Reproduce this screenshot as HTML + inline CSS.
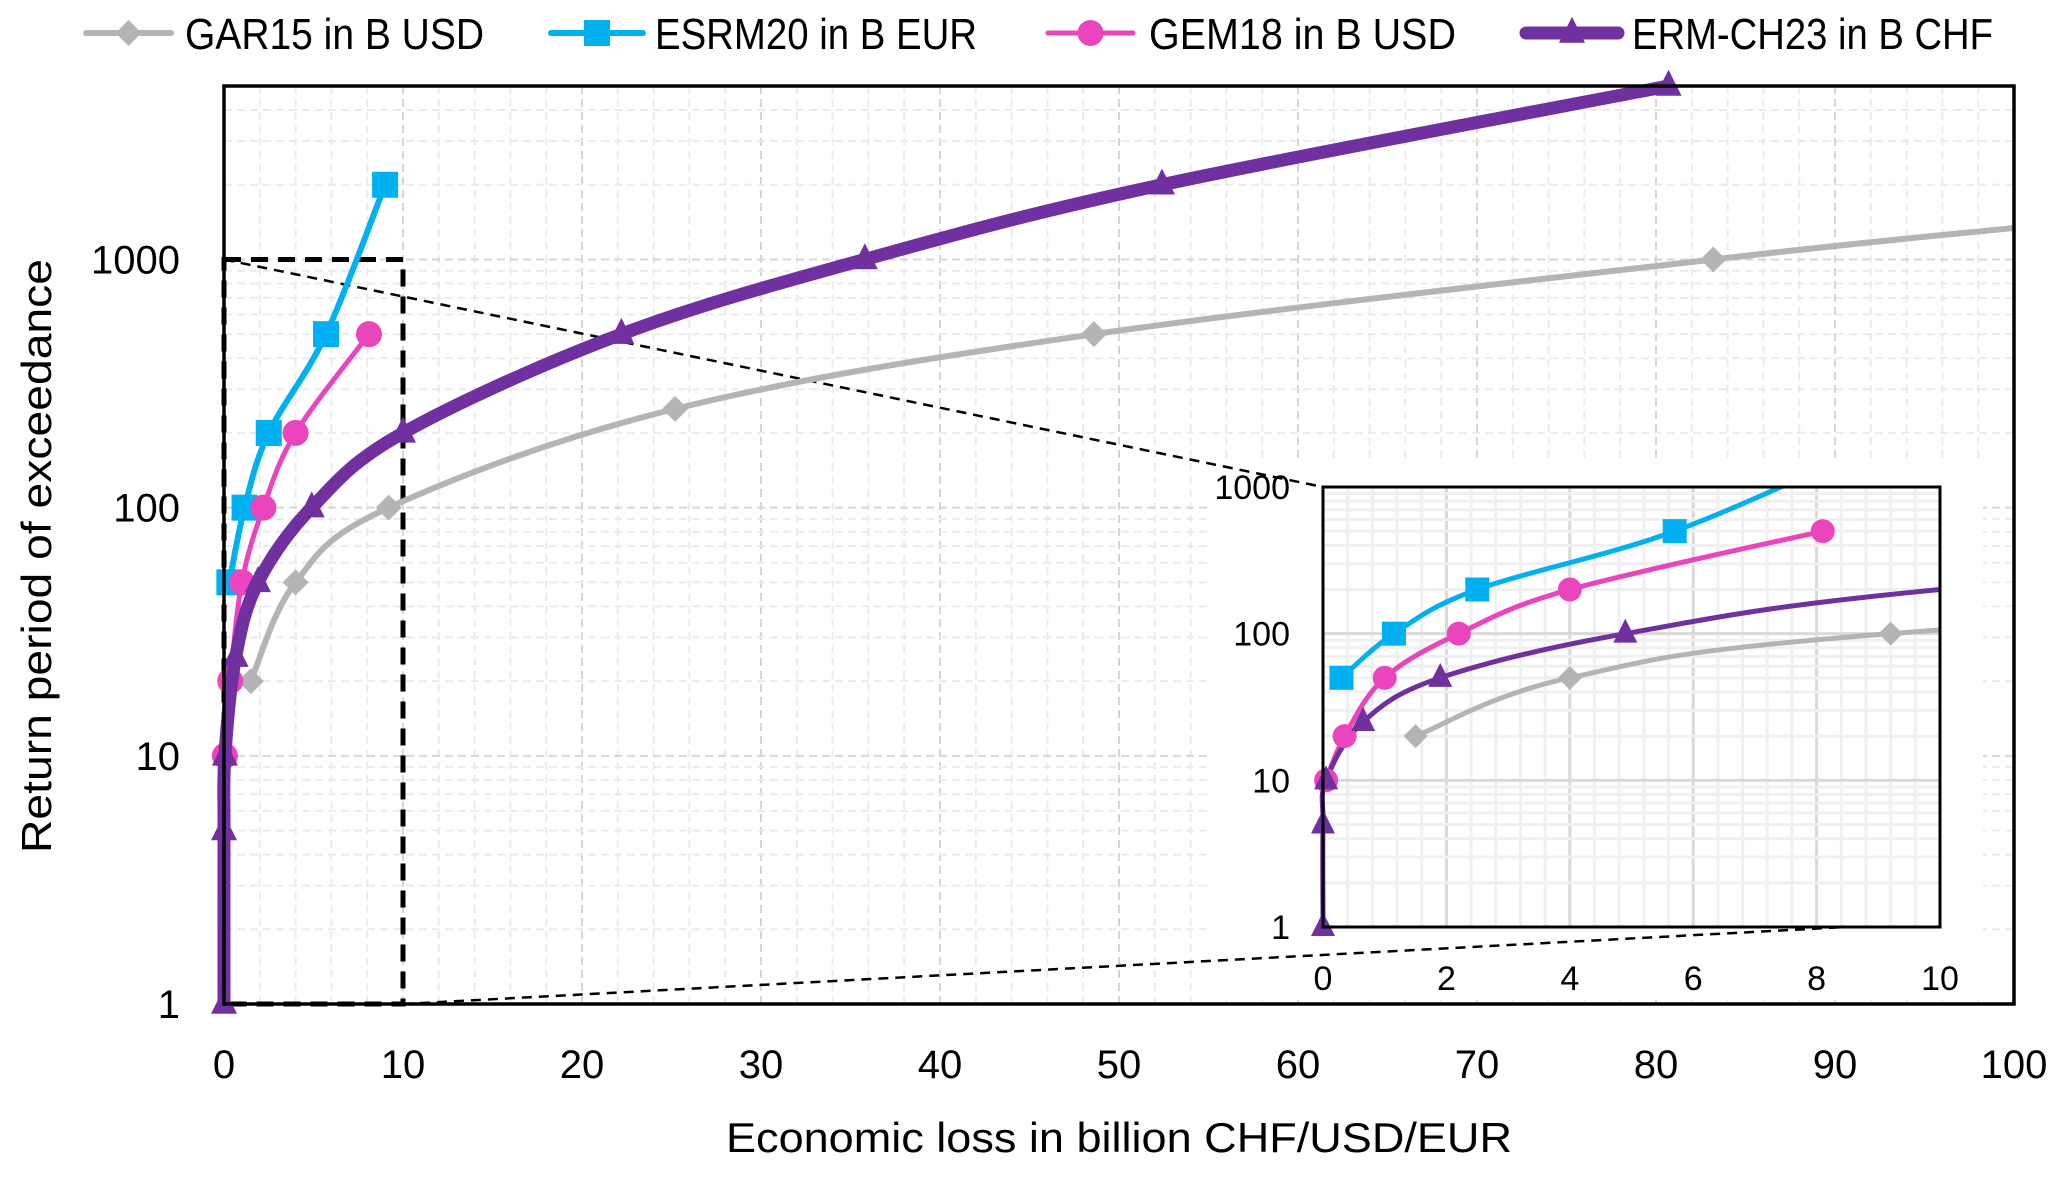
<!DOCTYPE html>
<html><head><meta charset="utf-8"><style>
html,body{margin:0;padding:0;background:#fff;}
svg{display:block;font-family:"Liberation Sans",sans-serif;}
</style></head><body>
<svg id="chart" width="2067" height="1178" viewBox="0 0 2067 1178" xmlns="http://www.w3.org/2000/svg"></svg>
<script>
const seriesNames=["GAR15 in B USD","ESRM20 in B EUR","GEM18 in B USD","ERM-CH23 in B CHF"];
const garX=[1.5,4,9.2,25.2,48.6,83.2];
const garY=[20,50,100,250,500,1000];
const garTailX=[100];
const garTailY=[1340];
const esrmX=[0.3,1.15,2.5,5.7,9];
const esrmY=[50,100,200,500,2000];
const gemX=[0.05,0.35,1.0,2.2,4,8.1];
const gemY=[10,20,50,100,200,500];
const ermX=[0,0,0.05,0.65,1.9,4.9,10,22.2,35.8,52.4,80.7];
const ermY=[1,5,10,25,50,100,200,500,1000,2000,5000];
const xTicks=[0,10,20,30,40,50,60,70,80,90,100];
const yTicks=[1,10,100,1000];
const insetXTicks=[0,2,4,6,8,10];
const insetYTicks=[1,10,100,1000];

const NS="http://www.w3.org/2000/svg";
const svg=document.getElementById('chart');
function el(tag,attrs,parent){const e=document.createElementNS(NS,tag);for(const k in attrs)e.setAttribute(k,attrs[k]);(parent||svg).appendChild(e);return e;}

const M={l:224,r:2014,t:86,b:1004,xmin:0,xmax:100,ymin:1,ymax:5000};
const I={l:1323,r:1940,t:487,b:927,xmin:0,xmax:10,ymin:1,ymax:1000};
function ax(A){return {x:v=>A.l+(v-A.xmin)/(A.xmax-A.xmin)*(A.r-A.l),
 y:v=>A.b-(Math.log10(v)-Math.log10(A.ymin))/(Math.log10(A.ymax)-Math.log10(A.ymin))*(A.b-A.t)};}
const mA=ax(M), iA=ax(I);

const gGrid=el('g',{});


for(let v=2;v<100;v+=2){const X=mA.x(v);el('line',{x1:X,x2:X,y1:M.t,y2:M.b,stroke:v%10==0?'#d6d6d6':'#ebebeb','stroke-width':2,'stroke-dasharray':'8 5'},gGrid);}
for(let d=1;d<=1000;d*=10){for(let k=1;k<=9;k++){const v=d*k;if(v<=1||v>=M.ymax)continue;const Y=mA.y(v);el('line',{x1:M.l,x2:M.r,y1:Y,y2:Y,stroke:k==1?'#d6d6d6':'#ebebeb','stroke-width':2,'stroke-dasharray':'8 5'},gGrid);}}

el('rect',{x:1207,y:460,width:776,height:540,fill:'#fff'});

function smoothPath(xs,ys,A){
 const p=xs.map((x,i)=>[A.x(x),A.y(ys[i])]);
 let d='M'+p[0][0]+','+p[0][1];
 for(let i=0;i<p.length-1;i++){
  const p0=p[i-1]||p[i],p1=p[i],p2=p[i+1],p3=p[i+2]||p2;
  const t=0.17;
  const c1=[p1[0]+(p2[0]-p0[0])*t,p1[1]+(p2[1]-p0[1])*t];
  const c2=[p2[0]-(p3[0]-p1[0])*t,p2[1]-(p3[1]-p1[1])*t];
  d+=' C'+c1[0]+','+c1[1]+' '+c2[0]+','+c2[1]+' '+p2[0]+','+p2[1];
 }
 return d;
}
function marker(type,cx,cy,s,color,parent){
 if(type=='diamond')return el('polygon',{points:`${cx},${cy-s} ${cx+s},${cy} ${cx},${cy+s} ${cx-s},${cy}`,fill:color},parent);
 if(type=='square')return el('rect',{x:cx-s,y:cy-s,width:2*s,height:2*s,fill:color},parent);
 if(type=='circle')return el('circle',{cx:cx,cy:cy,r:s,fill:color},parent);
 return el('polygon',{points:`${cx},${cy-s*1.25} ${cx+s},${cy+s*0.75} ${cx-s},${cy+s*0.75}`,fill:color},parent);
}
const SER=[
 {name:'gar15',xs:garX.concat(garTailX),ys:garY.concat(garTailY),n:garX.length,color:'#b4b4b4',w:6,iw:5,m:'diamond',s:13},
 {name:'esrm20',xs:esrmX,ys:esrmY,n:esrmX.length,color:'#00b0f0',w:6,iw:5,m:'square',s:13},
 {name:'gem18',xs:gemX,ys:gemY,n:gemX.length,color:'#ea45bd',w:5,iw:5,m:'circle',s:13},
 {name:'erm-ch23',xs:ermX,ys:ermY,n:ermX.length,color:'#7030a0',w:13,iw:5,m:'triangle',s:13}
];

const zr=el('rect',{x:mA.x(0),y:mA.y(1000),width:mA.x(10)-mA.x(0),height:mA.y(1)-mA.y(1000),fill:'none',stroke:'#000','stroke-width':5,'stroke-dasharray':'17 10'});


el('line',{x1:mA.x(0),y1:mA.y(1000),x2:I.l,y2:I.t,stroke:'#000','stroke-width':2.5,'stroke-dasharray':'10 7'});
el('line',{x1:mA.x(10),y1:mA.y(1),x2:I.r,y2:I.b-5,stroke:'#000','stroke-width':2.5,'stroke-dasharray':'10 7'});

SER.forEach(S=>{
 const g=el('g',{});
 
 
 el('path',{d:smoothPath(S.xs,S.ys,mA),fill:'none',stroke:S.color,'stroke-width':S.w,'stroke-linejoin':'round'},g);
 for(let i=0;i<S.n;i++){const m=marker(S.m,mA.x(S.xs[i]),mA.y(S.ys[i]),S.s,S.color,g);
  
  }
});

el('rect',{x:M.l,y:M.t,width:M.r-M.l,height:M.b-M.t,fill:'none',stroke:'#000','stroke-width':3.5});

xTicks.forEach(v=>{const t=el('text',{x:mA.x(v),y:1078,'font-size':40,'text-anchor':'middle'});t.textContent=v;
 });
yTicks.forEach(v=>{const t=el('text',{x:180,y:mA.y(v)+14,'font-size':40,'text-anchor':'end'});t.textContent=v;
 });

const gi=el('g',{});


el('rect',{x:I.l,y:I.t,width:I.r-I.l,height:I.b-I.t,fill:'#fff'},gi);
for(let k=1;k<25;k++){const v=k*0.4;const X=iA.x(v);el('line',{x1:X,x2:X,y1:I.t,y2:I.b,stroke:(k%5==0)?'#d9d9d9':'#f0f0f0','stroke-width':3},gi);}
for(let d=1;d<1000;d*=10){for(let k=1;k<=9;k++){const v=d*k;if(v<=1)continue;const Y=iA.y(v);el('line',{x1:I.l,x2:I.r,y1:Y,y2:Y,stroke:k==1?'#d9d9d9':'#f0f0f0','stroke-width':3},gi);}}
el('clipPath',{id:'ic'},gi).appendChild((()=>{const r=document.createElementNS(NS,'rect');r.setAttribute('x',I.l-10);r.setAttribute('y',I.t);r.setAttribute('width',I.r-I.l+10);r.setAttribute('height',I.b-I.t+20);return r;})());
SER.forEach(S=>{
 const g=el('g',{'clip-path':'url(#ic)'},gi);
 
 
 el('path',{d:smoothPath(S.xs,S.ys,iA),fill:'none',stroke:S.color,'stroke-width':S.iw,'stroke-linejoin':'round'},g);
});
SER.forEach(S=>{
 for(let i=0;i<S.n;i++){const x=S.xs[i],y=S.ys[i];if(x>=10||y>1000)continue;
  const m=marker(S.m,iA.x(x),iA.y(y),12,S.color,gi);
  
  }
});
el('rect',{x:I.l,y:I.t,width:I.r-I.l,height:I.b-I.t,fill:'none',stroke:'#000','stroke-width':3},gi);
insetXTicks.forEach(v=>{const t=el('text',{x:iA.x(v),y:990,'font-size':34,'text-anchor':'middle'},gi);t.textContent=v;
 });
insetYTicks.forEach(v=>{const t=el('text',{x:1290,y:iA.y(v)+12,'font-size':34,'text-anchor':'end'},gi);t.textContent=v;
 });

const xt=el('text',{x:1119,y:1152,'font-size':42,'text-anchor':'middle',textLength:786,lengthAdjust:'spacingAndGlyphs'});
xt.textContent='Economic loss in billion CHF/USD/EUR';

const yt=el('text',{x:0,y:0,'font-size':42,'text-anchor':'middle',transform:'translate(51,556) rotate(-90)',textLength:594,lengthAdjust:'spacingAndGlyphs'});
yt.textContent='Return period of exceedance';


const LEG=[[86,171,185,299],[551,643,655,322],[1048,1133,1149,307],[1526,1618,1632,361]];
const legW=[6,6,5,13];
SER.forEach((S,i)=>{
 const g=el('g',{});
 
 
 const [a,b,tx,tl]=LEG[i];
 el('line',{x1:a,x2:b,y1:33,y2:33,stroke:S.color,'stroke-width':legW[i],'stroke-linecap':'round'},g);
 marker(S.m,(a+b)/2,33,13,S.color,g);
 const t=el('text',{x:tx,y:49,'font-size':44,textLength:tl,lengthAdjust:'spacingAndGlyphs'},g);
 t.textContent=seriesNames[i];
});
</script>
</body></html>
